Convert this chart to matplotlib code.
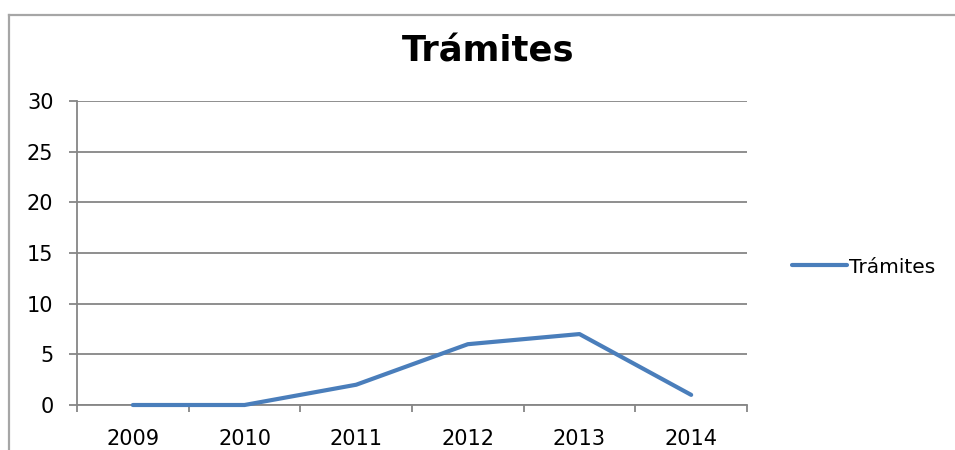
import matplotlib.pyplot as plt
from matplotlib.lines import Line2D

YEARS = ["2009", "2010", "2011", "2012", "2013", "2014"]
TRAMITES = [0, 0, 2, 6, 7, 1]
Y_TICKS = [0, 5, 10, 15, 20, 25, 30]

COLOR_LINE = "#4a7ebb"
COLOR_GRID = "#868686"
COLOR_FRAME = "#a6a6a6"

W, H = 955, 450

fig = plt.figure(figsize=(W / 100, H / 100), dpi=100)
ax = fig.add_axes([77 / W, 1 - 405 / H, (747 - 77) / W, (405 - 101) / H])

x = list(range(len(YEARS)))
ax.plot(x, TRAMITES, color=COLOR_LINE, lw=3.0, solid_capstyle="round",
        solid_joinstyle="round", label="Trámites", zorder=5, clip_on=False)

ax.set_xlim(-0.5, len(YEARS) - 0.5)
ax.set_ylim(0, 30)
ax.set_yticks(Y_TICKS)
ax.set_xticks(x)
ax.set_xticklabels(YEARS)
ax.set_xticks([i - 0.5 for i in range(len(YEARS) + 1)], minor=True)

ax.grid(axis="y", color=COLOR_GRID, lw=1.3)
ax.set_axisbelow(True)
for side in ("top", "right"):
    ax.spines[side].set_visible(False)
for side in ("left", "bottom"):
    ax.spines[side].set_color(COLOR_GRID)
    ax.spines[side].set_linewidth(1.3)
    ax.spines[side].set_zorder(1)

ax.tick_params(axis="y", length=6, width=1.3, color=COLOR_GRID, pad=11,
               labelsize=15)
ax.tick_params(axis="x", which="major", length=0, pad=17, labelsize=15)
ax.tick_params(axis="x", which="minor", length=5, width=1.3, color=COLOR_GRID)

fig.text(488 / W, 1 - 52 / H, "Trámites", ha="center", va="center",
         fontsize=25.5, fontweight="bold")

ax.legend(loc="center left", bbox_to_anchor=(774 / W, 1 - 267 / H),
          bbox_transform=fig.transFigure, frameon=False, fontsize=14.5,
          handlelength=2.7, handletextpad=0.1)

# chart frame (only left and top edges visible in the crop)
fig.add_artist(Line2D([9 / W, 9 / W], [0, 1 - 15 / H], color=COLOR_FRAME, lw=1.6))
fig.add_artist(Line2D([9 / W, 1], [1 - 15 / H, 1 - 15 / H], color=COLOR_FRAME, lw=1.6))

fig.savefig("out.png", dpi=100)
